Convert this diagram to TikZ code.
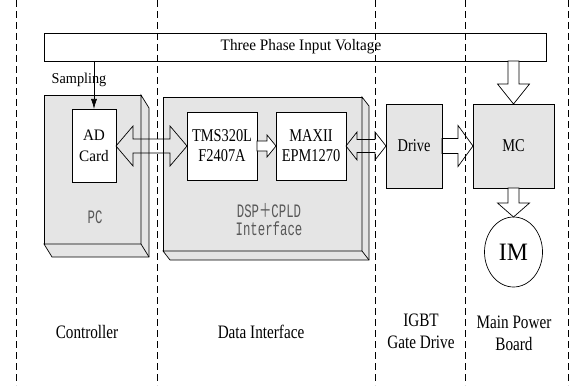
\documentclass[tikz,border=0pt]{standalone}
\usepackage{fontspec}
\setmainfont{Liberation Serif}[FakeStretch=0.95]
\newfontfamily\narrowfont{Liberation Serif}[FakeStretch=0.8]
\newfontfamily\grayfont{Liberation Mono}[FakeStretch=0.65]
\newfontfamily\cjkfont{Noto Sans CJK SC}[FakeStretch=0.65]
\usetikzlibrary{arrows.meta,shapes.geometric,calc}
\definecolor{boxgray}{HTML}{E5E5E5}
\definecolor{labelgray}{HTML}{585858}
% double horizontal block arrow: A (left tip), B (right tip), head length, head half, shaft half
\newcommand{\dblarrowH}[6][]{%
  \draw[blockarrow,#1] (#2) -- ++(#4,-#5) -- ++(0,#5-#6) -- ([xshift=-#4pt,yshift=#6pt]#3) -- ++(0,#6-#5) -- (#3) -- ++(-#4,#5) -- ++(0,#6-#5) -- ([xshift=#4pt,yshift=-#6pt]#2) -- ++(0,#5-#6) -- cycle;}
% single horizontal block arrow: A (tail), B (tip)
\newcommand{\sglarrowH}[6][]{%
  \draw[blockarrow,#1] ([yshift=#6pt]#2) -- ([xshift=-#4pt,yshift=#6pt]#3) -- ([xshift=-#4pt,yshift=#5pt]#3) -- (#3) -- ([xshift=-#4pt,yshift=-#5pt]#3) -- ([xshift=-#4pt,yshift=-#6pt]#3) -- ([yshift=-#6pt]#2) -- cycle;}
% single vertical (downward) block arrow: A (tail, top), B (tip, bottom)
\newcommand{\sglarrowV}[6][]{%
  \draw[blockarrow,#1] ([xshift=-#6pt]#2) -- ([xshift=-#6pt,yshift=#4pt]#3) -- ([xshift=-#5pt,yshift=#4pt]#3) -- (#3) -- ([xshift=#5pt,yshift=#4pt]#3) -- ([xshift=#6pt,yshift=#4pt]#3) -- ([xshift=#6pt]#2) -- cycle;}
\begin{document}
\begin{tikzpicture}[x=1pt,y=-1pt,
  lane/.style={line width=0.7pt,dash pattern=on 7pt off 4pt},
  box/.style={draw,line width=0.7pt,inner sep=0pt,outer sep=0pt},
  graybox/.style={box,fill=boxgray},
  whitebox/.style={box,fill=white},
  face/.style={draw,line width=0.7pt,fill=boxgray,line join=miter},
  blockarrow/.style={draw,line width=0.7pt,line join=miter},
  plain/.style={inner sep=0pt,outer sep=0pt},
  lbl/.style={plain,align=center,font=\narrowfont\fontsize{19}{22}\selectfont},
  graylbl/.style={plain,align=center,text=labelgray,font=\grayfont\fontsize{19}{18}\selectfont}]
\useasboundingbox (0,0) rectangle (569,385);
% lane separators
\foreach \xx/\nm in {16/l1,157/l2,375/l3,465/l4,568/l5}{
  \coordinate (\nm top) at (\xx,0);
  \coordinate (\nm bot) at (\xx,385);
  \draw[lane] (\nm top) -- (\nm bot);
}
% three phase input bar
\node[box,minimum width=502pt,minimum height=28pt] (vin) at (295,47) {};
\node[plain,font=\fontsize{16}{18}\selectfont] (vinlbl) at (301,47) {Three Phase Input Voltage};
% PC 3D box
\node[graybox,minimum width=97pt,minimum height=149pt] (pc) at (92.5,169.5) {};
\draw[face] (pc.north east) -- ++(8,13) -- ([xshift=8pt,yshift=-13pt]pc.south east) -- ([xshift=8pt,yshift=-13pt]pc.south west) -- (pc.south west) -- (pc.south east) -- cycle;
\draw[line width=0.7pt] (pc.south east) -- ++(8,13);
\node[graylbl] (pclabel) at (95,217) {PC};
\node[whitebox,minimum width=44pt,minimum height=73pt,align=center,font=\fontsize{16}{21}\selectfont] (ad) at (94,145.5) {AD\\Card};
% DSP+CPLD 3D box
\node[graybox,minimum width=199pt,minimum height=154pt] (dsp) at (262.5,174) {};
\draw[face] (dsp.north east) -- ++(7,9) -- ([xshift=7pt,yshift=-9pt]dsp.south east) -- ([xshift=7pt,yshift=-9pt]dsp.south west) -- (dsp.south west) -- (dsp.south east) -- cycle;
\draw[line width=0.7pt] (dsp.south east) -- ++(7,9);
\node[graylbl] (dsplabel) at (269,220) {DSP{\cjkfont ＋}CPLD\\Interface};
\node[whitebox,minimum width=70pt,minimum height=68pt,align=center,font=\narrowfont\fontsize{18}{20}\selectfont] (tms) at (222,146) {TMS320L\\F2407A};
\node[whitebox,minimum width=70pt,minimum height=68pt,align=center,font=\narrowfont\fontsize{18}{20}\selectfont] (maxii) at (311,146) {MAXII\\EPM1270};
% drive, MC, IM
\node[graybox,minimum width=56pt,minimum height=84pt,font=\narrowfont\fontsize{18}{20}\selectfont] (drive) at (414,146) {Drive};
\node[graybox,minimum width=81pt,minimum height=84pt,font=\narrowfont\fontsize{18}{20}\selectfont] (mc) at (513.5,146) {MC};
\node[draw,line width=0.7pt,ellipse,inner sep=0pt,outer sep=0pt,minimum width=58pt,minimum height=70pt,font=\fontsize{25}{28}\selectfont] (im) at (513.5,252) {IM};
% sampling
\node[plain,font=\fontsize{15}{17}\selectfont] (samplbl) at (79,80) {Sampling};
\coordinate (samp) at (vin.south -| ad.north);
\draw[line width=0.7pt,-{Latex[length=10pt,width=6pt]}] (samp) -- (ad.north);
% block arrows
\coordinate (adr) at (ad.east |- tms.west);
\dblarrowH{adr}{tms.west}{17}{20}{7}
\sglarrowH[fill=white]{tms.east}{maxii.west}{9}{11}{5}
\dblarrowH{maxii.east}{drive.west}{11}{14}{6.5}
\sglarrowH{drive.east}{mc.west}{15}{20.5}{7.5}
\coordinate (vinmc) at (vin.south -| mc.north);
\sglarrowV[fill=white]{vinmc}{mc.north}{20}{16}{5.5}
\sglarrowV[fill=white]{mc.south}{im.north}{14}{16}{5.5}
% lane titles
\node[lbl] (ctrl) at (87,332) {Controller};
\node[lbl] (dataif) at (261,332) {Data Interface};
\node[lbl] (igbt) at (421,331) {IGBT\\Gate Drive};
\node[lbl] (mpb) at (514,333) {Main Power\\Board};
\end{tikzpicture}
\end{document}
